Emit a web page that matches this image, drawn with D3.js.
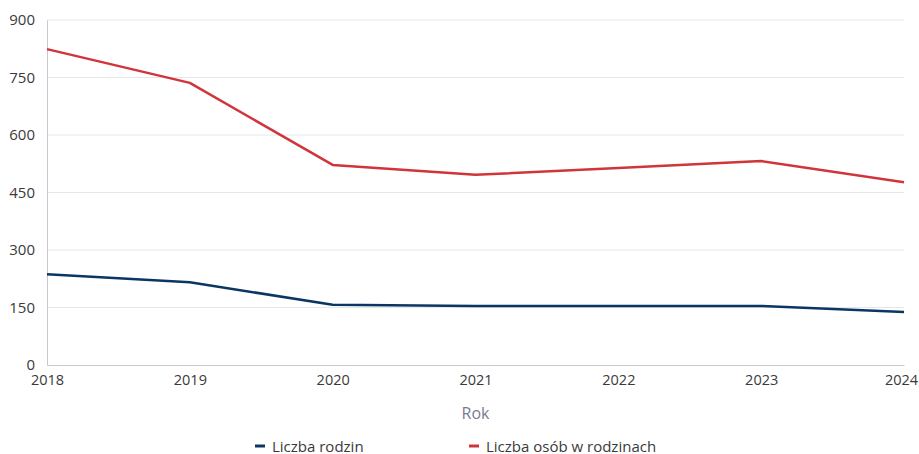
<!DOCTYPE html>
<html><head><meta charset="utf-8">
<script src="https://cdn.jsdelivr.net/npm/d3@7"></script>
<style>body{margin:0;background:#fff;font-family:"Open Sans",sans-serif;}</style>
</head><body><svg id="c" width="919" height="454"></svg>
<script>
const years = [2018, 2019, 2020, 2021, 2022, 2023, 2024];
const liczbaRodzin = [237, 216, 157, 154, 154, 154, 138];
const liczbaOsob = [824, 736, 522, 496, 514, 532, 477];
const yTicks = [0, 150, 300, 450, 600, 750, 900];
const seriesNames = ["Liczba rodzin", "Liczba osób w rodzinach"];
const colors = ["#0b3663", "#d0353b"];

const svg = d3.select("#c");
const m = {l:47, r:15, t:20, b:89};
const W = 919, H = 454;
const x = d3.scaleLinear().domain([2018, 2024]).range([m.l, W - m.r]);
const y = d3.scaleLinear().domain([0, 900]).range([H - m.b, m.t]);

// grid
svg.append("g").selectAll("line").data(yTicks.filter(d=>d>0)).join("line")
  .attr("x1", m.l).attr("x2", W - m.r)
  .attr("y1", d=>y(d)).attr("y2", d=>y(d))
  .attr("stroke", "#e6e6e6").attr("stroke-width", 1);

// y axis
const ya = svg.append("g").attr("transform", `translate(${m.l},0)`)
  .call(d3.axisLeft(y).tickValues(yTicks).tickSize(0).tickPadding(12));
ya.select(".domain").attr("stroke", "#c8c8d0");
ya.selectAll("text").attr("font-family", "Open Sans").attr("font-size", 15).attr("fill", "#3a3a3a");

// x axis
const xa = svg.append("g").attr("transform", `translate(0,${y(0)})`)
  .call(d3.axisBottom(x).tickValues(years).tickFormat(d3.format("d")).tickSize(0).tickPadding(10));
xa.select(".domain").attr("stroke", "#c8c8d0");
xa.selectAll("text").attr("font-family", "Open Sans").attr("font-size", 14.5).attr("fill", "#3a3a3a");
xa.selectAll(".tick").filter(d => d === years[years.length-1]).select("text").attr("dx", -3);

svg.append("text").attr("x", (m.l + W - m.r)/2).attr("y", 419)
  .attr("text-anchor", "middle").attr("font-family", "Open Sans").attr("font-size", 16)
  .attr("fill", "#7a7a90").text("Rok");

const line = d3.line().x((d,i)=>x(years[i])).y(d=>y(d));
[liczbaRodzin, liczbaOsob].forEach((s, k) => {
  svg.append("path").attr("d", line(s)).attr("fill", "none")
    .attr("stroke", colors[k]).attr("stroke-width", 2.5).attr("stroke-linejoin", "round");
});

// legend
const lx = [255, 469];
seriesNames.forEach((n, k) => {
  svg.append("line").attr("x1", lx[k]).attr("x2", lx[k] + 10).attr("y1", 446).attr("y2", 446)
    .attr("stroke", colors[k]).attr("stroke-width", 3);
  svg.append("text").attr("x", lx[k] + 17).attr("y", 451.5).attr("font-family", "Open Sans")
    .attr("font-size", 15).attr("fill", "#3a3a3a").text(n);
});
</script></body></html>
